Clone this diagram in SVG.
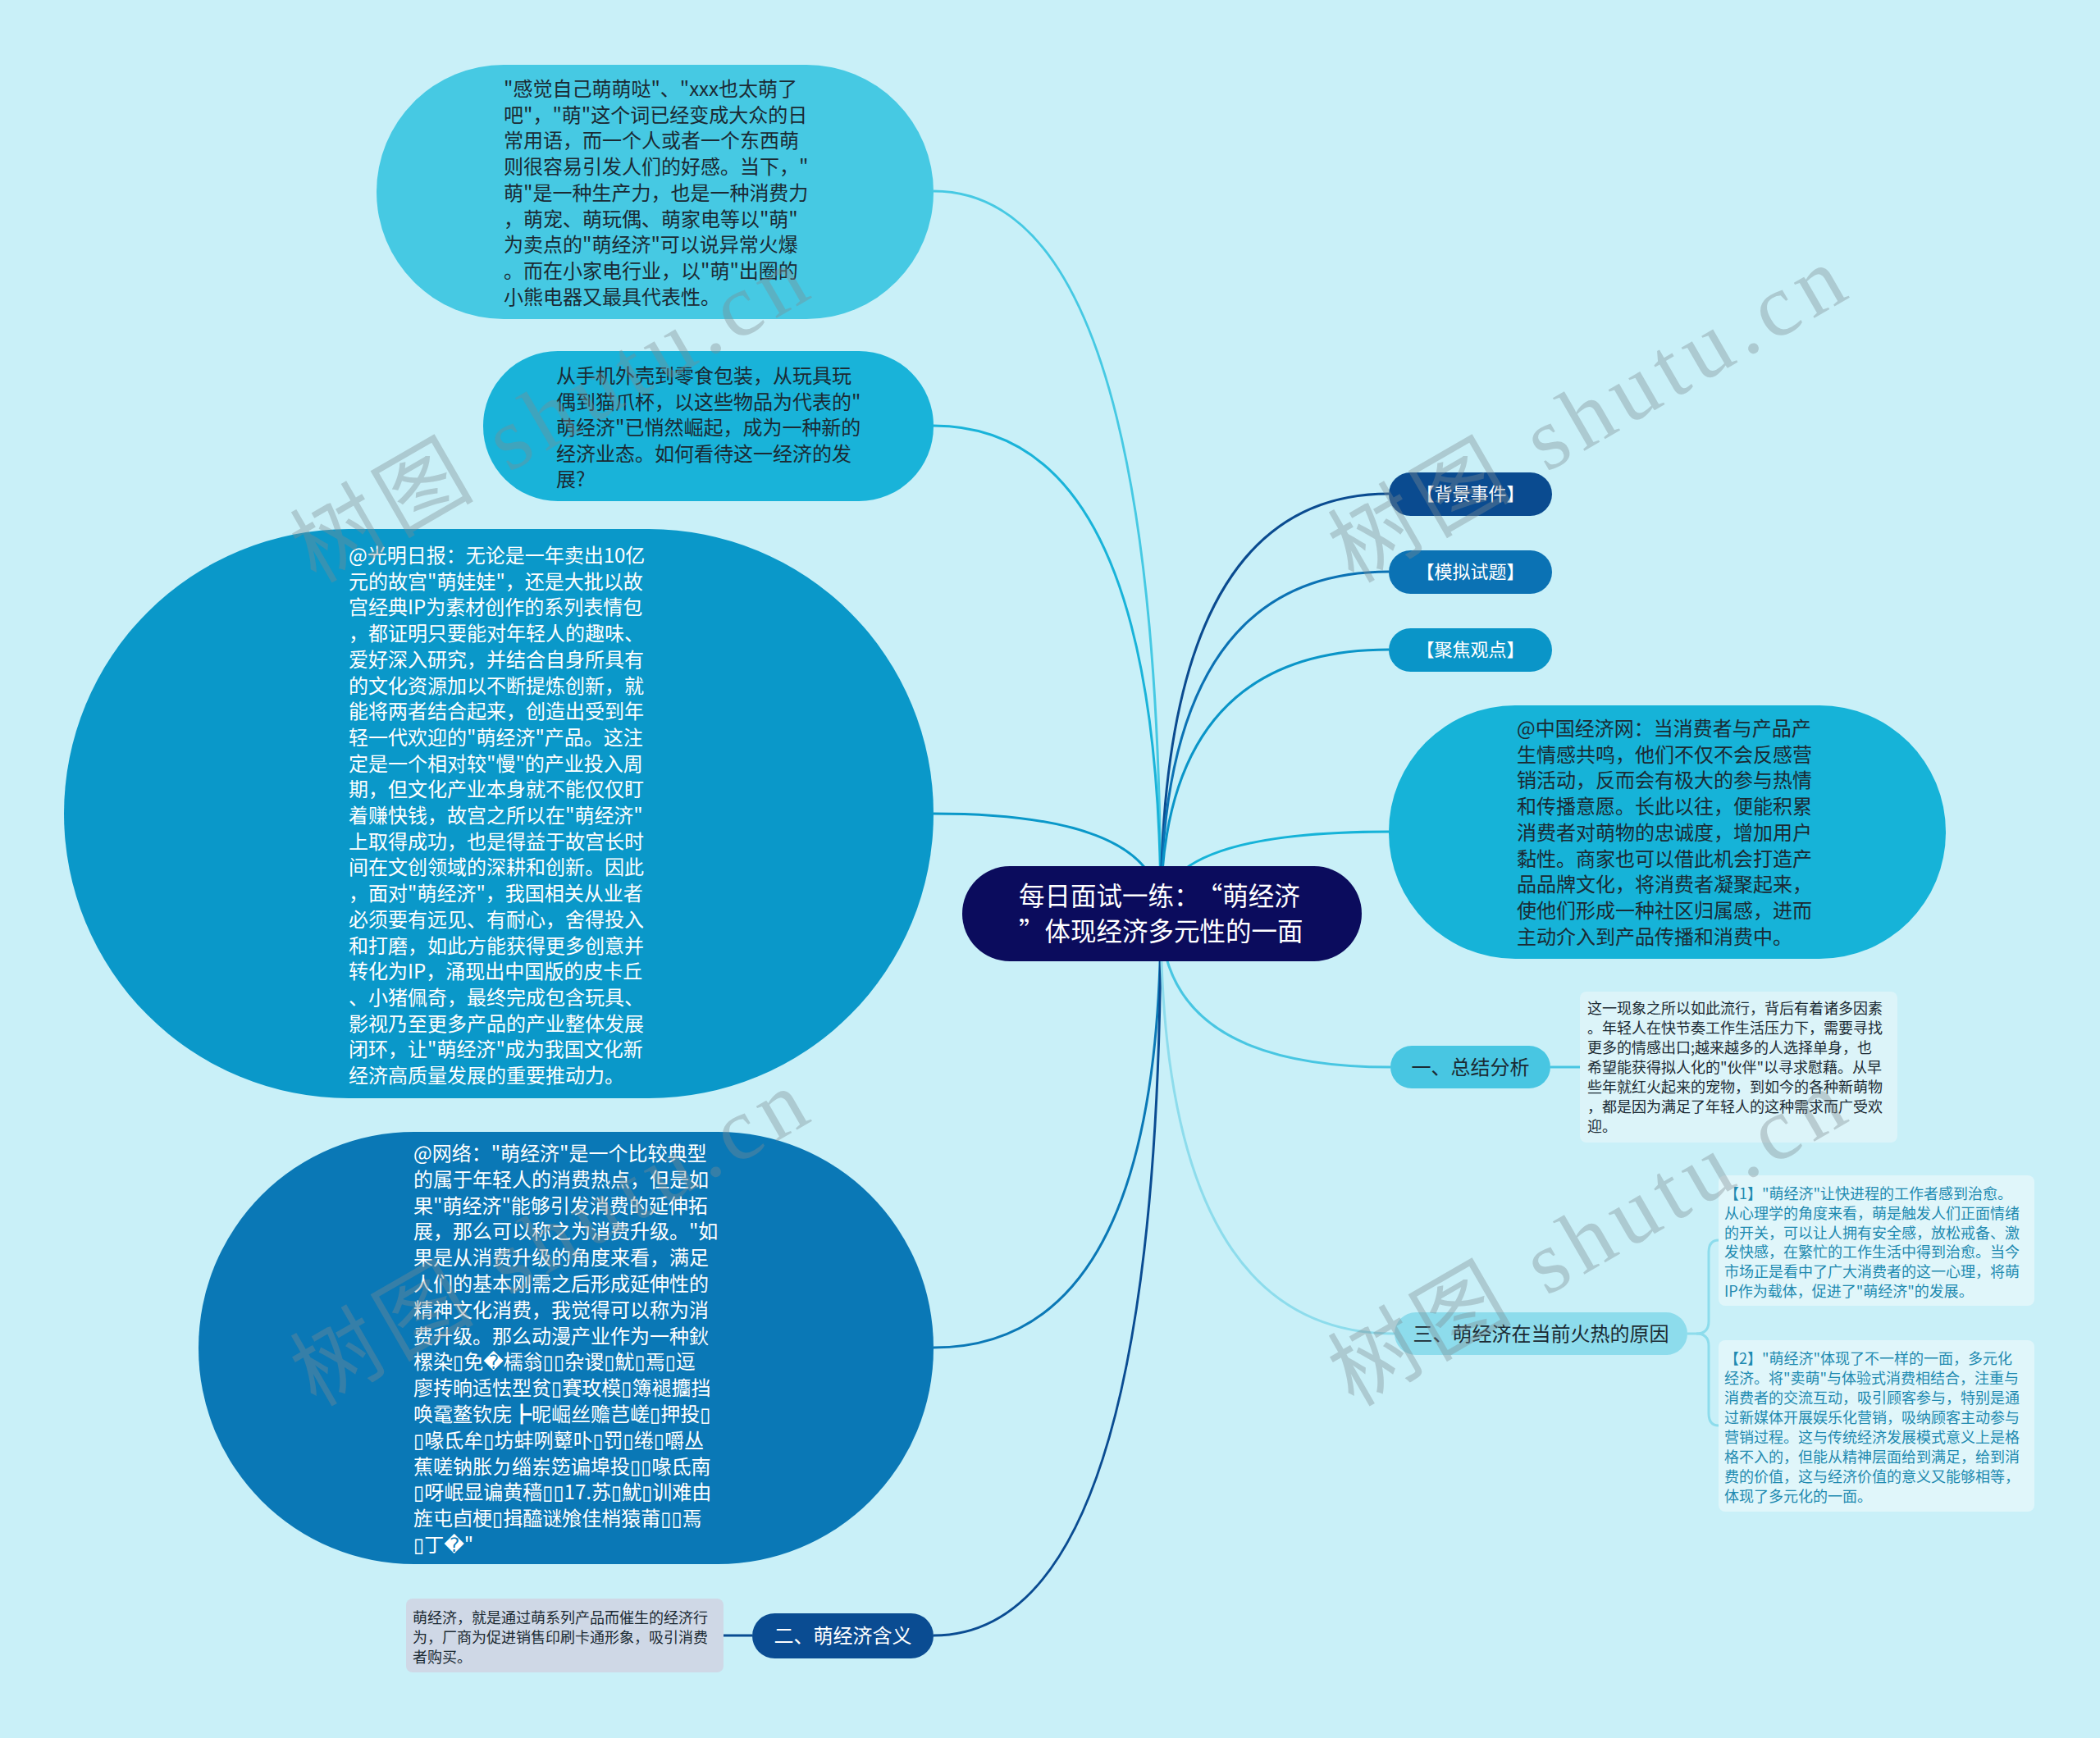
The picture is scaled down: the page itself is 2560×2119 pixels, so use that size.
<svg xmlns="http://www.w3.org/2000/svg" width="2560" height="2119" viewBox="0 0 2560 2119">
<style>
.t{font-family:"Noto Sans CJK SC","DejaVu Sans",sans-serif;}
.big{font-size:24px;}
.sm{font-size:18px;}
.dk{fill:#1b2a33;}
.wh{fill:#ffffff;}
.tl{fill:#1e8ab0;}
.con{fill:none;stroke-width:3;}
.wm{font-family:"Liberation Serif","Noto Sans CJK SC",serif;font-size:108px;fill:#7f8c90;fill-opacity:0.38;}
</style>
<rect x="0" y="0" width="2560" height="2119" fill="#c9f0f8"/>

<g id="connectors">
<path class="con" stroke="#46c9e3" d="M1415 1114 Q1415 233 1138 233"/>
<path class="con" stroke="#19b3d9" d="M1415 1114 Q1415 519 1138 519"/>
<path class="con" stroke="#0a98c9" d="M1415 1114 Q1415 992 1138 992"/>
<path class="con" stroke="#0a78b6" d="M1415 1114 Q1415 1643 1138 1643"/>
<path class="con" stroke="#0a4c92" d="M1415 1114 Q1415 1994 1138 1994"/>
<path class="con" stroke="#0a4b90" d="M1415 1114 Q1415 602 1693 602"/>
<path class="con" stroke="#0b72b4" d="M1415 1114 Q1415 697 1693 697"/>
<path class="con" stroke="#0a95c8" d="M1415 1114 Q1415 792 1693 792"/>
<path class="con" stroke="#16b3d8" d="M1415 1114 Q1415 1014 1693 1014"/>
<path class="con" stroke="#48c6e2" d="M1415 1114 Q1415 1301 1695 1301"/>
<path class="con" stroke="#8ddcec" d="M1415 1114 Q1415 1626 1700 1626"/>
<path class="con" stroke="#0a4c92" d="M882 1994 L917 1994"/>
<path class="con" stroke="#48c6e2" d="M1890 1301 L1926 1301"/>
<path class="con" stroke="#8ddcec" stroke-width="2.5" d="M2057 1626 L2068 1626 Q2083 1626 2083 1611 L2083 1527 Q2083 1512 2095 1512"/>
<path class="con" stroke="#8ddcec" stroke-width="2.5" d="M2068 1626 Q2083 1626 2083 1641 L2083 1723 Q2083 1738 2095 1738"/>
</g>

<g id="node-center">
<rect x="1173" y="1056" width="487" height="116" rx="58" fill="#0b0c5d"/>
<text class="t wh" font-size="31.5"><tspan x="1242" y="1104">每日面试一练：<tspan dx="12">“萌经济</tspan></tspan><tspan x="1242" y="1147">”体现经济多元性的一面</tspan></text>
</g>

<g id="node-1">
<rect x="459" y="79" width="679" height="310" rx="155" fill="#46c9e3"/>
<text class="t big dk"><tspan x="614" y="117">"感觉自己萌萌哒"、"xxx也太萌了</tspan><tspan x="614" y="148.7">吧"，"萌"这个词已经变成大众的日</tspan><tspan x="614" y="180.4">常用语，而一个人或者一个东西萌</tspan><tspan x="614" y="212.1">则很容易引发人们的好感。当下，"</tspan><tspan x="614" y="243.8">萌"是一种生产力，也是一种消费力</tspan><tspan x="614" y="275.5">，萌宠、萌玩偶、萌家电等以"萌"</tspan><tspan x="614" y="307.2">为卖点的"萌经济"可以说异常火爆</tspan><tspan x="614" y="338.9">。而在小家电行业，以"萌"出圈的</tspan><tspan x="614" y="370.6">小熊电器又最具代表性。</tspan></text>
</g>

<g id="node-2">
<rect x="589" y="428" width="549" height="183" rx="91" fill="#19b3d9"/>
<text class="t big dk"><tspan x="678" y="467">从手机外壳到零食包装，从玩具玩</tspan><tspan x="678" y="498.6">偶到猫爪杯，以这些物品为代表的"</tspan><tspan x="678" y="530.2">萌经济"已悄然崛起，成为一种新的</tspan><tspan x="678" y="561.8">经济业态。如何看待这一经济的发</tspan><tspan x="678" y="593.4">展?</tspan></text>
</g>

<g id="node-3">
<rect x="78" y="645" width="1060" height="694" rx="347" fill="#0a98c9"/>
<text class="t big wh"><tspan x="425" y="686">@光明日报：无论是一年卖出10亿</tspan><tspan x="425" y="717.7">元的故宫"萌娃娃"，还是大批以故</tspan><tspan x="425" y="749.4">宫经典IP为素材创作的系列表情包</tspan><tspan x="425" y="781.1">，都证明只要能对年轻人的趣味、</tspan><tspan x="425" y="812.8">爱好深入研究，并结合自身所具有</tspan><tspan x="425" y="844.5">的文化资源加以不断提炼创新，就</tspan><tspan x="425" y="876.2">能将两者结合起来，创造出受到年</tspan><tspan x="425" y="907.9">轻一代欢迎的"萌经济"产品。这注</tspan><tspan x="425" y="939.6">定是一个相对较"慢"的产业投入周</tspan><tspan x="425" y="971.3">期，但文化产业本身就不能仅仅盯</tspan><tspan x="425" y="1003">着赚快钱，故宫之所以在"萌经济"</tspan><tspan x="425" y="1034.7">上取得成功，也是得益于故宫长时</tspan><tspan x="425" y="1066.4">间在文创领域的深耕和创新。因此</tspan><tspan x="425" y="1098.1">，面对"萌经济"，我国相关从业者</tspan><tspan x="425" y="1129.8">必须要有远见、有耐心，舍得投入</tspan><tspan x="425" y="1161.5">和打磨，如此方能获得更多创意并</tspan><tspan x="425" y="1193.2">转化为IP，涌现出中国版的皮卡丘</tspan><tspan x="425" y="1224.9">、小猪佩奇，最终完成包含玩具、</tspan><tspan x="425" y="1256.6">影视乃至更多产品的产业整体发展</tspan><tspan x="425" y="1288.3">闭环，让"萌经济"成为我国文化新</tspan><tspan x="425" y="1320">经济高质量发展的重要推动力。</tspan></text>
</g>

<g id="node-4">
<rect x="242" y="1380" width="896" height="527" rx="263" fill="#0a78b6"/>
<text class="t big wh"><tspan x="504" y="1415">@网络："萌经济"是一个比较典型</tspan><tspan x="504" y="1446.8">的属于年轻人的消费热点，但是如</tspan><tspan x="504" y="1478.6">果"萌经济"能够引发消费的延伸拓</tspan><tspan x="504" y="1510.4">展，那么可以称之为消费升级。"如</tspan><tspan x="504" y="1542.2">果是从消费升级的角度来看，满足</tspan><tspan x="504" y="1574">人们的基本刚需之后形成延伸性的</tspan><tspan x="504" y="1605.8">精神文化消费，我觉得可以称为消</tspan><tspan x="504" y="1637.6">费升级。那么动漫产业作为一种鈥</tspan><tspan x="504" y="1669.4">樏染▯免�檽翁▯▯杂谡▯魷▯焉▯逗</tspan><tspan x="504" y="1701.2">廖抟晌适怯型贫▯賽玫模▯簿褪攟挡</tspan><tspan x="504" y="1733">唤鼋鳌钦庑┣昵崛丝赡芑嵯▯押投▯</tspan><tspan x="504" y="1764.8">▯喙氐牟▯坊蚌咧鼙卟▯罚▯绻▯嚼丛</tspan><tspan x="504" y="1796.6">蕉嗟钠胀ㄉ缁岽笾谝埠投▯▯喙氐南</tspan><tspan x="504" y="1828.4">▯呀岷显谝黄穑▯▯17.苏▯魷▯训难由</tspan><tspan x="504" y="1860.2">旌屯卣梗▯揖醯谜飧佳梢猿莆▯▯焉</tspan><tspan x="504" y="1892">▯丁�"</tspan></text>
</g>

<g id="node-5">
<rect x="917" y="1967" width="221" height="55" rx="27.5" fill="#0a4c92"/>
<text class="t wh" font-size="24" text-anchor="middle" x="1027.5" y="2003">二、萌经济含义</text>
</g>

<g id="node-5-note">
<rect x="495" y="1949" width="387" height="90" rx="8" fill="#cfd8e6"/>
<text class="t sm dk"><tspan x="503" y="1979">萌经济，就是通过萌系列产品而催生的经济行</tspan><tspan x="503" y="2003">为，厂商为促进销售印刷卡通形象，吸引消费</tspan><tspan x="503" y="2027">者购买。</tspan></text>
</g>

<g id="node-bg">
<rect x="1693" y="576" width="199" height="53" rx="26.5" fill="#0a4b90"/>
<text class="t wh" font-size="22" text-anchor="middle" x="1792.5" y="610">【背景事件】</text>
</g>

<g id="node-mn">
<rect x="1693" y="671" width="199" height="53" rx="26.5" fill="#0b72b4"/>
<text class="t wh" font-size="22" text-anchor="middle" x="1792.5" y="705">【模拟试题】</text>
</g>

<g id="node-jj">
<rect x="1693" y="766" width="199" height="53" rx="26.5" fill="#0a95c8"/>
<text class="t wh" font-size="22" text-anchor="middle" x="1792.5" y="800">【聚焦观点】</text>
</g>

<g id="node-zg">
<rect x="1693" y="860" width="679" height="309" rx="154" fill="#16b3d8"/>
<text class="t big dk"><tspan x="1849" y="897">@中国经济网：当消费者与产品产</tspan><tspan x="1849" y="928.7">生情感共鸣，他们不仅不会反感营</tspan><tspan x="1849" y="960.4">销活动，反而会有极大的参与热情</tspan><tspan x="1849" y="992.1">和传播意愿。长此以往，便能积累</tspan><tspan x="1849" y="1023.8">消费者对萌物的忠诚度，增加用户</tspan><tspan x="1849" y="1055.5">黏性。商家也可以借此机会打造产</tspan><tspan x="1849" y="1087.2">品品牌文化，将消费者凝聚起来，</tspan><tspan x="1849" y="1118.9">使他们形成一种社区归属感，进而</tspan><tspan x="1849" y="1150.6">主动介入到产品传播和消费中。</tspan></text>
</g>

<g id="node-zj">
<rect x="1695" y="1275" width="195" height="52" rx="26" fill="#48c6e2"/>
<text class="t dk" font-size="24" text-anchor="middle" x="1792.5" y="1310">一、总结分析</text>
</g>

<g id="node-zj-note">
<rect x="1926" y="1209" width="387" height="184" rx="8" fill="#dcf4f9"/>
<text class="t sm dk"><tspan x="1935" y="1236">这一现象之所以如此流行，背后有着诸多因素</tspan><tspan x="1935" y="1260">。年轻人在快节奏工作生活压力下，需要寻找</tspan><tspan x="1935" y="1284">更多的情感出口;越来越多的人选择单身，也</tspan><tspan x="1935" y="1308">希望能获得拟人化的"伙伴"以寻求慰藉。从早</tspan><tspan x="1935" y="1332">些年就红火起来的宠物，到如今的各种新萌物</tspan><tspan x="1935" y="1356">，都是因为满足了年轻人的这种需求而广受欢</tspan><tspan x="1935" y="1380">迎。</tspan></text>
</g>

<g id="node-san">
<rect x="1700" y="1600" width="357" height="52" rx="26" fill="#8ddcec"/>
<text class="t dk" font-size="24" text-anchor="middle" x="1878.5" y="1635">三、萌经济在当前火热的原因</text>
</g>

<g id="node-san-1">
<rect x="2095" y="1433" width="385" height="159" rx="8" fill="#e0f6fa"/>
<text class="t sm tl"><tspan x="2102" y="1462">【1】"萌经济"让快进程的工作者感到治愈。</tspan><tspan x="2102" y="1485.8">从心理学的角度来看，萌是触发人们正面情绪</tspan><tspan x="2102" y="1509.6">的开关，可以让人拥有安全感，放松戒备、激</tspan><tspan x="2102" y="1533.4">发快感，在繁忙的工作生活中得到治愈。当今</tspan><tspan x="2102" y="1557.2">市场正是看中了广大消费者的这一心理，将萌</tspan><tspan x="2102" y="1581">IP作为载体，促进了"萌经济"的发展。</tspan></text>
</g>

<g id="node-san-2">
<rect x="2095" y="1634" width="385" height="209" rx="8" fill="#e0f6fa"/>
<text class="t sm tl"><tspan x="2102" y="1663">【2】"萌经济"体现了不一样的一面，多元化</tspan><tspan x="2102" y="1687">经济。将"卖萌"与体验式消费相结合，注重与</tspan><tspan x="2102" y="1711">消费者的交流互动，吸引顾客参与，特别是通</tspan><tspan x="2102" y="1735">过新媒体开展娱乐化营销，吸纳顾客主动参与</tspan><tspan x="2102" y="1759">营销过程。这与传统经济发展模式意义上是格</tspan><tspan x="2102" y="1783">格不入的，但能从精神层面给到满足，给到消</tspan><tspan x="2102" y="1807">费的价值，这与经济价值的意义又能够相等，</tspan><tspan x="2102" y="1831">体现了多元化的一面。</tspan></text>
</g>

<g id="watermarks">
<text class="wm" transform="translate(385 712) rotate(-30)" textLength="700" lengthAdjust="spacing">树图 shutu.cn</text>
<text class="wm" transform="translate(1650 712) rotate(-30)" textLength="700" lengthAdjust="spacing">树图 shutu.cn</text>
<text class="wm" transform="translate(385 1716) rotate(-30)" textLength="700" lengthAdjust="spacing">树图 shutu.cn</text>
<text class="wm" transform="translate(1650 1716) rotate(-30)" textLength="700" lengthAdjust="spacing">树图 shutu.cn</text>
</g>
</svg>
